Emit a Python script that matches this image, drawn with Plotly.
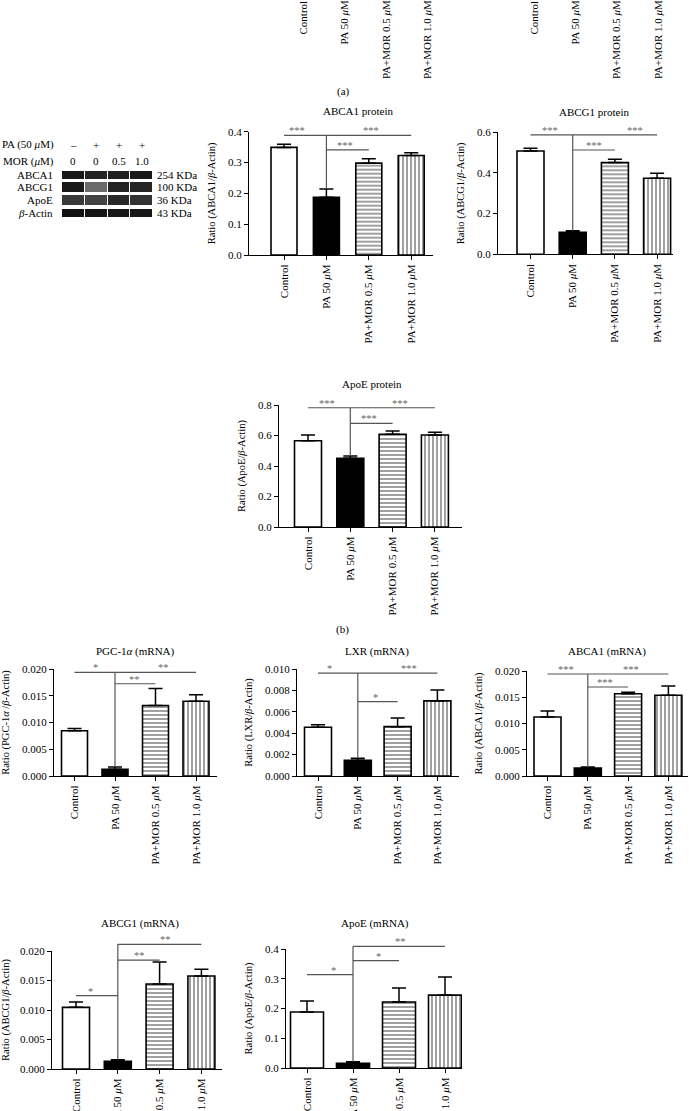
import plotly.graph_objects as go

W, H = 689, 1111
SERIF = "Liberation Serif"
FS = 10.5
TFS = 11

# ---------------- data ----------------
groups = ["Control", "PA 50 <i>μ</i>M", "PA+MOR 0.5 <i>μ</i>M", "PA+MOR 1.0 <i>μ</i>M"]

titles = ["ABCA1 protein", "ABCG1 protein", "ApoE protein",
          "PGC-1<i>α</i> (mRNA)", "LXR (mRNA)", "ABCA1 (mRNA)",
          "ABCG1 (mRNA)", "ApoE (mRNA)"]
ylabels = ["Ratio (ABCA1/<i>β</i>-Actin)", "Ratio (ABCG1/<i>β</i>-Actin)",
           "Ratio (ApoE/<i>β</i>-Actin)", "Ratio (PGC-1<i>α</i> /<i>β</i>-Actin)",
           "Ratio (LXR/<i>β</i>-Actin)", "Ratio (ABCA1/<i>β</i>-Actin)",
           "Ratio (ABCG1/<i>β</i>-Actin)", "Ratio (ApoE/<i>β</i>-Actin)"]

abca1_prot = [0.349, 0.187, 0.298, 0.323]
abca1_prot_err = [0.010, 0.027, 0.014, 0.009]
abcg1_prot = [0.508, 0.108, 0.451, 0.374]
abcg1_prot_err = [0.013, 0.008, 0.016, 0.024]
apoe_prot = [0.566, 0.451, 0.608, 0.603]
apoe_prot_err = [0.037, 0.015, 0.022, 0.018]
pgc_mrna = [0.00846, 0.00125, 0.01317, 0.01398]
pgc_mrna_err = [0.00044, 0.00045, 0.00319, 0.00119]
lxr_mrna = [0.00455, 0.00147, 0.00461, 0.00702]
lxr_mrna_err = [0.00025, 0.00019, 0.00081, 0.00101]
abca1_mrna = [0.01124, 0.00152, 0.01568, 0.01537]
abca1_mrna_err = [0.00114, 0.00019, 0.00026, 0.00177]
abcg1_mrna = [0.01045, 0.00130, 0.01440, 0.01576]
abcg1_mrna_err = [0.00091, 0.00028, 0.00374, 0.00113]
apoe_mrna = [0.188, 0.0157, 0.222, 0.245]
apoe_mrna_err = [0.037, 0.0056, 0.047, 0.061]

y_max = [0.4, 0.6, 0.8, 0.020, 0.010, 0.020, 0.020, 0.4]
y_step = [0.1, 0.2, 0.2, 0.005, 0.002, 0.005, 0.005, 0.1]
y_fmt = [".1f", ".1f", ".1f", ".3f", ".3f", ".3f", ".3f", ".1f"]

# significance bracket heights (top line, PA-vs-0.5 line, Control-vs-PA line)
sig_top = [0.388, 0.587, 0.782, 0.01937, 0.00962, 0.01943, 0.02113, 0.409]
sig_mid = [0.341, 0.513, 0.680, 0.01724, 0.00696, 0.01695, 0.01847, 0.361]
sig_low = [None, None, None, None, None, None, 0.01243, 0.3137]
sig_text = [["***", "***", "***"], ["***", "***", "***"], ["***", "***", "***"],
            ["*", "**", "**"], ["*", "*", "***"], ["***", "***", "***"],
            ["*", "**", "**"], ["*", "*", "**"]]
sig_star_x = [[0.31, 1.44, 2.05], [0.46, 1.50, 2.48], [0.45, 1.44, 2.17],
              [0.52, 1.49, 2.19], [0.30, 1.45, 2.29], [0.46, 1.43, 2.06],
              [0.35, 1.51, 2.13], [0.57, 1.55, 2.04]]

blot_rows = ["ABCA1", "ABCG1", "ApoE", "<i>β</i>-Actin"]
blot_kda = ["254 KDa", "100 KDa", "36 KDa", "43 KDa"]
pa_marks = ["–", "+", "+", "+"]
mor_marks = ["0", "0", "0.5", "1.0"]
band_abca1 = [0.90, 0.86, 0.88, 0.90]
band_abcg1 = [0.90, 0.58, 0.86, 0.86]
band_apoe = [0.78, 0.74, 0.84, 0.80]
band_actin = [0.93, 0.92, 0.91, 0.91]

values = [abca1_prot, abcg1_prot, apoe_prot, pgc_mrna, lxr_mrna, abca1_mrna, abcg1_mrna, apoe_mrna]
errors = [abca1_prot_err, abcg1_prot_err, apoe_prot_err, pgc_mrna_err, lxr_mrna_err,
          abca1_mrna_err, abcg1_mrna_err, apoe_mrna_err]

# ---------------- layout geometry (pixels) ----------------
geom = [
    dict(l=249, r=433, t=131.7, b=255, c0=284, s=42.4, bw=26, tx=358, ty=111),
    dict(l=498, r=673, t=132.3, b=254.3, c0=530.5, s=42.2, bw=27, tx=594, ty=112),
    dict(l=279, r=462, t=405, b=527, c0=308, s=42.3, bw=27, tx=372, ty=384),
    dict(l=54, r=217, t=669, b=776, c0=74.5, s=40.5, bw=26, tx=135, ty=651),
    dict(l=297, r=459, t=669, b=776, c0=318, s=39.8, bw=27, tx=377, ty=651),
    dict(l=527, r=688, t=671, b=776, c0=547.5, s=40.3, bw=27, tx=607, ty=651),
    dict(l=52, r=222, t=951, b=1069, c0=76, s=41.8, bw=27, tx=140, ty=923),
    dict(l=286, r=462, t=949, b=1068, c0=307, s=46, bw=33, tx=375, ty=923),
]


def px_x(p):
    return p / W


def px_y(p):
    return 1 - p / H


def font(size=FS, color="black"):
    return dict(family=SERIF, size=size, color=color)


fig = go.Figure()
layout = dict(width=W, height=H, margin=dict(l=0, r=0, t=0, b=0, pad=0), autosize=False,
              paper_bgcolor="white", plot_bgcolor="rgba(0,0,0,0)", showlegend=False,
              font=font())
annotations = []

EXT = 30  # px of headroom for brackets
for k in range(8):
    g = geom[k]
    i = k + 1
    j = k + 9
    xr = [(g["l"] - g["c0"]) / g["s"], (g["r"] - g["c0"]) / g["s"]]
    xdom = [px_x(g["l"]), px_x(g["r"])]
    ydom = [px_y(g["b"]), px_y(g["t"])]
    ov_top = g["t"] - EXT
    ov_max = y_max[k] * (g["b"] - ov_top) / (g["b"] - g["t"])
    xname = "xaxis" if i == 1 else f"xaxis{i}"
    yname = "yaxis" if i == 1 else f"yaxis{i}"

    layout[xname] = dict(domain=xdom, range=xr, anchor=f"y{i}", type="linear", automargin=False,
                         tickmode="array", tickvals=[0, 1, 2, 3], ticktext=groups,
                         tickangle=-90, showline=True, linecolor="black", linewidth=1.3,
                         ticks="outside", ticklen=4, tickwidth=1.2, tickcolor="black",
                         showgrid=False, zeroline=False, tickfont=font(TFS))
    nt = int(round(y_max[k] / y_step[k]))
    layout[yname] = dict(domain=ydom, range=[0, y_max[k]], anchor=f"x{i}", automargin=False,
                         tickmode="array", tickvals=[y_step[k] * n for n in range(nt + 1)],
                         tickformat=y_fmt[k],
                         showline=True, linecolor="black", linewidth=1.3,
                         ticks="outside", ticklen=4, tickwidth=1.2, tickcolor="black",
                         showgrid=False, zeroline=False, tickfont=font(TFS),
                         title=dict(text=ylabels[k], standoff=10, font=font()))
    layout[f"xaxis{j}"] = dict(domain=xdom, range=xr, anchor=f"y{j}", visible=False,
                               automargin=False, showgrid=False, zeroline=False)
    layout[f"yaxis{j}"] = dict(domain=[px_y(g["b"]), px_y(ov_top)], range=[0, ov_max],
                               anchor=f"x{j}", visible=False, automargin=False,
                               showgrid=False, zeroline=False)

    fig.add_trace(go.Bar(
        x=[0, 1, 2, 3], y=values[k], width=g["bw"] / g["s"],
        xaxis="x" if i == 1 else f"x{i}", yaxis="y" if i == 1 else f"y{i}",
        marker=dict(color=["white", "black", "white", "white"],
                    line=dict(color="black", width=1.6),
                    pattern=dict(shape=["", "", "-", "|"], fgcolor="black", bgcolor="white",
                                 size=4, solidity=0.5)),
        error_y=dict(type="data", array=errors[k], arrayminus=[0, 0, 0, 0], symmetric=False,
                     color="black", thickness=1.5, width=7),
        hoverinfo="skip"))

    # significance brackets
    pa_top = values[k][1] + errors[k][1]
    xs, ys = [], []
    if sig_low[k] is None:
        xs += [0, 3, None]
        ys += [sig_top[k], sig_top[k], None]
    else:
        xs += [0, 1, None, 1, 3, None]
        ys += [sig_low[k], sig_low[k], None, sig_top[k], sig_top[k], None]
    xs += [1, 1, None, 1, 2]
    ys += [pa_top, sig_top[k], None, sig_mid[k], sig_mid[k]]
    fig.add_trace(go.Scatter(x=xs, y=ys, mode="lines", xaxis=f"x{j}", yaxis=f"y{j}",
                             line=dict(color="#555555", width=1.2), hoverinfo="skip"))
    star_y = [sig_top[k] if sig_low[k] is None else sig_low[k], sig_mid[k], sig_top[k]]
    for n in range(3):
        annotations.append(dict(x=sig_star_x[k][n], y=star_y[n], xref=f"x{j}", yref=f"y{j}",
                                text=sig_text[k][n], showarrow=False, yanchor="bottom",
                                yshift=-3, font=font(FS, "#666666")))
    annotations.append(dict(x=px_x(g["tx"]), y=px_y(g["ty"]), xref="paper", yref="paper",
                            text=titles[k], showarrow=False, xanchor="center", yanchor="middle",
                            font=font(TFS)))

# ---------------- panel (a) tick labels cut at the top ----------------
top_label_x = [[303, 344, 386, 427], [534, 575, 616, 658]]
for grp in top_label_x:
    for n in range(4):
        annotations.append(dict(x=px_x(grp[n]), y=px_y(-1.5), xref="paper", yref="paper",
                                text=groups[n], textangle=-90, showarrow=False,
                                xanchor="center", yanchor="top", font=font(TFS)))

# ---------------- western blot ----------------
layout["xaxis19"] = dict(domain=[px_x(62), px_x(153)], range=[0, 4], anchor="y19",
                         visible=False, automargin=False, showgrid=False, zeroline=False)
layout["yaxis19"] = dict(domain=[px_y(220), px_y(168)], range=[220, 168], anchor="x19",
                         visible=False, automargin=False, showgrid=False, zeroline=False)
nan = None
fig.add_trace(go.Heatmap(
    x=[0, 1, 2, 3, 4], y=[171, 179, 182, 192, 195, 205, 209, 217],
    z=[band_abca1, [nan] * 4, band_abcg1, [nan] * 4, band_apoe, [nan] * 4, band_actin],
    zmin=0, zmax=1, colorscale=[[0, "white"], [1, "black"]], showscale=False,
    xgap=1, xaxis="x19", yaxis="y19", hoverinfo="skip"))

band_centres = [175, 187, 200, 213]
for n in range(4):
    annotations.append(dict(x=px_x(55), y=band_centres[n], xref="paper", yref="y19",
                            text=blot_rows[n], showarrow=False, xanchor="right",
                            yanchor="middle", font=font(TFS)))
    annotations.append(dict(x=px_x(155), y=band_centres[n], xref="paper", yref="y19",
                            text=blot_kda[n], showarrow=False, xanchor="left",
                            yanchor="middle", font=font(TFS)))
    annotations.append(dict(x=n + 0.5, y=px_y(145), xref="x19", yref="paper",
                            text=pa_marks[n], showarrow=False, yanchor="middle",
                            font=font(TFS)))
    annotations.append(dict(x=n + 0.5, y=px_y(161), xref="x19", yref="paper",
                            text=mor_marks[n], showarrow=False, yanchor="middle",
                            font=font(TFS)))
annotations.append(dict(x=px_x(56), y=px_y(145), xref="paper", yref="paper",
                        text="PA (50 <i>μ</i>M)", showarrow=False, xanchor="right",
                        yanchor="middle", font=font(TFS)))
annotations.append(dict(x=px_x(56), y=px_y(161), xref="paper", yref="paper",
                        text="MOR (<i>μ</i>M)", showarrow=False, xanchor="right",
                        yanchor="middle", font=font(TFS)))

# panel letters
annotations.append(dict(x=px_x(343), y=px_y(91), xref="paper", yref="paper", text="(a)",
                        showarrow=False, yanchor="middle", font=font(TFS)))
annotations.append(dict(x=px_x(342), y=px_y(629), xref="paper", yref="paper", text="(b)",
                        showarrow=False, yanchor="middle", font=font(TFS)))

layout["annotations"] = annotations
fig.update_layout(**layout)
fig.write_html("out.html", config={"displayModeBar": False},
               post_script="document.body.style.margin='0';document.body.style.overflow='hidden';")
